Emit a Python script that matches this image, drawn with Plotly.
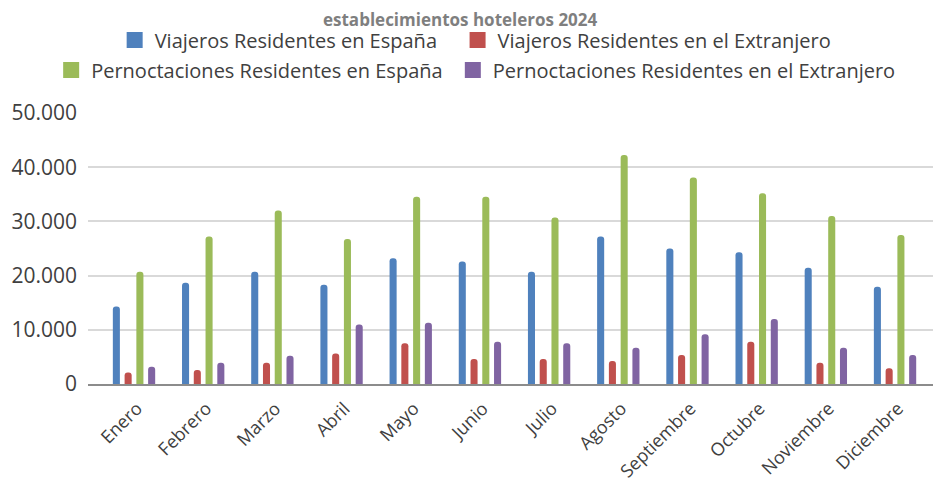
import plotly.graph_objects as go

meses = ["Enero", "Febrero", "Marzo", "Abril", "Mayo", "Junio", "Julio",
         "Agosto", "Septiembre", "Octubre", "Noviembre", "Diciembre"]
viajeros_esp = [14300, 18700, 20700, 18300, 23200, 22600, 20700, 27200, 25000, 24300, 21450, 17950]
viajeros_ext = [2100, 2600, 3900, 5650, 7500, 4600, 4600, 4250, 5350, 7800, 3900, 2900]
pernoct_esp = [20700, 27200, 32000, 26750, 34550, 34550, 30700, 42250, 38100, 35200, 31000, 27500]
pernoct_ext = [3200, 3900, 5200, 11000, 11300, 7800, 7500, 6700, 9200, 12000, 6700, 5350]
y_ticks = [0, 10000, 20000, 30000, 40000, 50000]
y_labels = ["0", "10.000", "20.000", "30.000", "40.000", "50.000"]
titulo = "establecimientos hoteleros 2024"

series = [
    ("Viajeros Residentes en España", viajeros_esp, "#4F81BD", "legend"),
    ("Viajeros Residentes en el Extranjero", viajeros_ext, "#C0504D", "legend"),
    ("Pernoctaciones Residentes en España", pernoct_esp, "#9BBB59", "legend2"),
    ("Pernoctaciones Residentes en el Extranjero", pernoct_ext, "#8064A2", "legend2"),
]

FONT = "Open Sans"
TXT = "#404040"
PADS = {0: "\u00a0\u00a0\u00a0", 2: "\u00a0"}

fig = go.Figure()
for name, vals, color, leg in series:
    fig.add_bar(x=meses, y=vals, name=name, marker_color=color,
                marker_line_width=0, showlegend=False, legendgroup=name)
for i, (name, vals, color, leg) in enumerate(series):
    # legend entry only (large square swatch)
    label = name + PADS.get(i, "")
    fig.add_scatter(x=[None], y=[None], mode="markers", name=label,
                    marker=dict(symbol="square", size=18, color=color),
                    legend=leg, legendgroup=name, showlegend=True)

leg_common = dict(orientation="h", xanchor="center", yanchor="middle",
                  font=dict(size=20, color=TXT), traceorder="normal",
                  itemwidth=30, bgcolor="rgba(0,0,0,0)")

fig.update_layout(
    width=933, height=485,
    margin=dict(l=80, r=1, t=105, b=109, autoexpand=False),
    paper_bgcolor="white", plot_bgcolor="white",
    font=dict(family=FONT, color=TXT),
    barmode="group", bargap=0.32, bargroupgap=0.4, barcornerradius=4,
    showlegend=True,
    legend=dict(x=0.455, y=1.269, **leg_common),
    legend2=dict(x=0.455, y=1.159, **leg_common),
    xaxis=dict(range=[-0.665, 11.65], tickangle=-45, showgrid=False,
               showline=True, linecolor="#8c8c8c", linewidth=2,
               ticks="", tickfont=dict(size=18, color=TXT),
               ticklabelshift=3, ticklabelstandoff=5, automargin=False),
    yaxis=dict(range=[0, 50000], tickvals=y_ticks, ticktext=y_labels,
               showgrid=True, gridcolor="#d9d9d9", gridwidth=1.5,
               zeroline=False, showline=False, ticks="",
               tickfont=dict(size=21, color=TXT), ticklabelstandoff=10,
               automargin=False),
    annotations=[dict(text="<b>" + titulo + "</b>", xref="paper", yref="paper",
                      x=0.437, y=1.0 + 80 / 271, xanchor="center", yanchor="bottom",
                      showarrow=False, font=dict(size=17, color="#7f7f7f"))],
)

fig.write_html("out.html")
